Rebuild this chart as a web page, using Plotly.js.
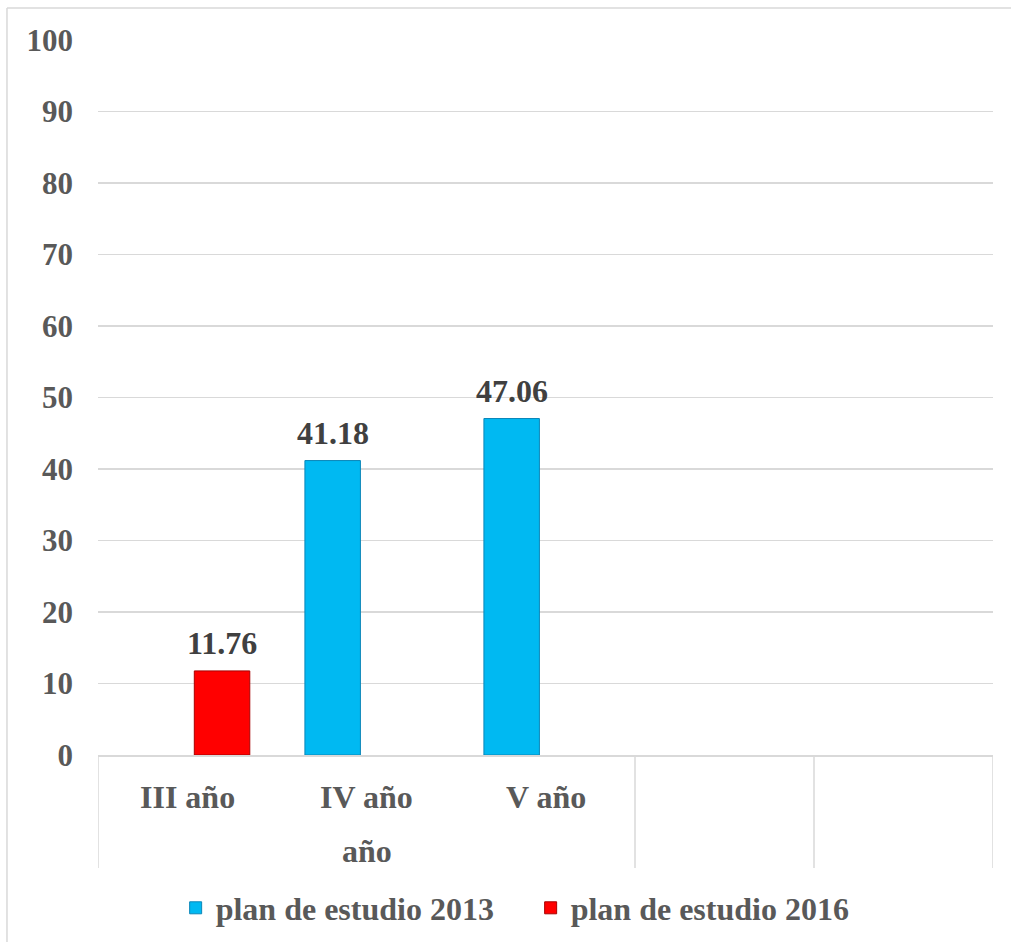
<!DOCTYPE html>
<html>
<head>
<meta charset="utf-8">
<script src="https://cdn.plot.ly/plotly-3.0.1.min.js"></script>
<style>html,body{margin:0;padding:0;background:#fff;}#chart{width:1011px;height:942px;}</style>
</head>
<body>
<div id="chart"></div>
<script>
// ---- data ----
var categories = ["III año", "IV año", "V año", "", ""];
var groupLabels = ["año", "", ""];
var seriesNames = ["plan de estudio 2013", "plan de estudio 2016"];
var values2013 = [null, 41.18, 47.06, null, null];
var values2016 = [11.76, null, null, null, null];
var yTicks = [0, 10, 20, 30, 40, 50, 60, 70, 80, 90, 100];

// ---- style ----
var FONT = "Liberation Serif";
var GRID = "#D9D9D9";
var barWidth = 0.31;
var offsets = [-0.344, 0.038];
var colors = ["#00B9F2", "#FF0000"];
var lineColors = ["#0A86B8", "#A80000"];
var allSeries = [values2013, values2016];

var idx = categories.map(function (_, i) { return i; });

var traces = allSeries.map(function (vals, s) {
  return {
    type: "bar",
    name: seriesNames[s],
    x: idx,
    y: vals,
    width: barWidth,
    offset: offsets[s],
    marker: { color: colors[s], line: { color: lineColors[s], width: 1 } },
    hoverinfo: "y"
  };
});

var annotations = [];
allSeries.forEach(function (vals, s) {
  vals.forEach(function (v, i) {
    if (v === null) return;
    annotations.push({
      x: i + offsets[s] + barWidth / 2, y: v, xref: "x", yref: "y",
      text: "<b>" + v.toFixed(2) + "</b>", showarrow: false, yanchor: "bottom", yshift: 8,
      font: { family: FONT, size: 32, color: "#404040" }
    });
  });
});
categories.forEach(function (c, i) {
  if (!c) return;
  annotations.push({
    x: i, y: -0.0587, xref: "x", yref: "paper", text: "<b>" + c + "</b>", showarrow: false,
    yanchor: "middle", font: { family: FONT, size: 32, color: "#595959" }
  });
});
groupLabels.forEach(function (g, gi) {
  if (!g) return;
  annotations.push({
    x: 1, y: -0.134, xref: "x", yref: "paper", text: "<b>" + g + "</b>", showarrow: false,
    yanchor: "middle", font: { family: FONT, size: 32, color: "#595959" }
  });
});

var shapes = [];
[-0.5, 2.5, 3.5, 4.5].forEach(function (xb) {
  shapes.push({ type: "line", xref: "x", yref: "paper", x0: xb, x1: xb, y0: 0, y1: -0.158,
    line: { color: GRID, width: 1.5 } });
});
// outer chart frame (top and left edges visible)
shapes.push({ type: "line", xref: "paper", yref: "paper", x0: -0.1017, x1: 1.03, y0: 1.0448, y1: 1.0448,
  line: { color: GRID, width: 1.5 } });
shapes.push({ type: "line", xref: "paper", yref: "paper", x0: -0.1017, x1: -0.1017, y0: 1.0448, y1: -0.27,
  line: { color: GRID, width: 1.5 } });

var layout = {
  width: 1011, height: 942,
  margin: { l: 98, r: 18, t: 40, b: 187, autoexpand: false },
  paper_bgcolor: "#fff", plot_bgcolor: "#fff",
  barmode: "overlay",
  showlegend: true,
  legend: {
    orientation: "h", x: 0.4834, xanchor: "center", y: -0.214, yanchor: "middle",
    entrywidth: 310, entrywidthmode: "pixels",
    font: { family: FONT, size: 32, color: "#595959", weight: "bold" },
    itemclick: false
  },
  xaxis: {
    range: [-0.5, 4.5], showgrid: false, zeroline: false,
    showline: true, linecolor: GRID, linewidth: 1.5,
    showticklabels: false, ticks: "", fixedrange: true
  },
  yaxis: {
    range: [0, 100], tickvals: yTicks, ticktext: yTicks.map(function (t) { return "<b>" + t + "</b>"; }),
    showgrid: true, gridcolor: GRID, gridwidth: 1.5, zeroline: false,
    showline: false, ticks: "", ticklabelstandoff: 24,
    tickfont: { family: FONT, size: 31, color: "#595959" },
    fixedrange: true
  },
  annotations: annotations,
  shapes: shapes
};

Plotly.newPlot("chart", traces, layout, { displayModeBar: false, staticPlot: true });
</script>
</body>
</html>
